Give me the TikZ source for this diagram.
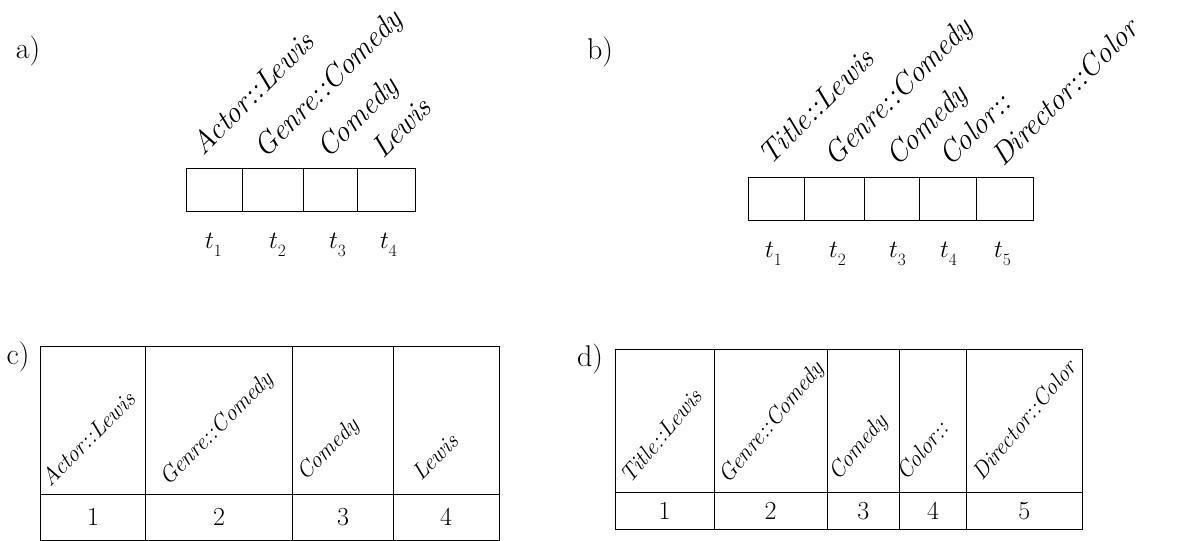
\documentclass[tikz,border=0pt]{standalone}
\begin{document}
\begin{tikzpicture}[x=1pt,y=-1pt,
  cell/.style={draw,line width=0.9pt,inner sep=0pt,minimum height=43pt},
  tcell/.style={draw,line width=0.9pt,inner sep=0pt,font=\fontsize{26}{30}\selectfont},
  biglab/.style={anchor=base west,rotate=45,inner sep=0pt,font=\fontsize{30}{34}\selectfont\itshape},
  smalllab/.style={anchor=base west,rotate=45,inner sep=0pt,font=\fontsize{23}{27}\selectfont\itshape},
  steeplab/.style={smalllab,rotate=5},
  tlab/.style={inner sep=0pt,font=\fontsize{36}{42}\selectfont},
  panel/.style={inner sep=0pt,font=\fontsize{30}{34}\selectfont}]
\useasboundingbox (0,0) rectangle (1187,541);
% panel labels
\node[panel] (pa) at (28,51) {a)};
\node[panel] (pb) at (600,52) {b)};
\node[panel] (pc) at (18,357) {c)};
\node[panel] (pd) at (590,359) {d)};
% a) cells
\node[cell,minimum width=56.3pt] (a1) at (214.15,189.5) {};
\node[cell,minimum width=60.7pt] (a2) at (272.65,189.5) {};
\node[cell,minimum width=54.7pt] (a3) at (330.35,189.5) {};
\node[cell,minimum width=57.3pt] (a4) at (386.35,189.5) {};
\node[biglab] (la1) at (203,157) {Actor::Lewis};
\node[biglab] (la2) at (265,160) {Genre::Comedy};
\node[biglab] (la3) at (328,160) {Comedy};
\node[biglab] (la4) at (383,160) {Lewis};
\node[tlab] (ta1) at (214,245) {$t_{_1}$};
\node[tlab] (ta2) at (278,245) {$t_{_2}$};
\node[tlab] (ta3) at (338,245) {$t_{_3}$};
\node[tlab] (ta4) at (389,245) {$t_{_4}$};
% b) cells
\node[cell,minimum width=55.3pt] (b1) at (776.35,198.5) {};
\node[cell,minimum width=60.7pt] (b2) at (834.35,198.5) {};
\node[cell,minimum width=54.3pt] (b3) at (891.85,198.5) {};
\node[cell,minimum width=57pt] (b4) at (947.5,198.5) {};
\node[cell,minimum width=57pt] (b5) at (1004.5,198.5) {};
\node[biglab] (lb1) at (770,167) {Title::Lewis};
\node[biglab] (lb2) at (835,168) {Genre::Comedy};
\node[biglab] (lb3) at (897,168) {Comedy};
\node[biglab] (lb4) at (950,168) {Color::};
\node[biglab] (lb5) at (1003,168) {Director::Color};
\node[tlab] (tb1) at (774,254) {$t_{_1}$};
\node[tlab] (tb2) at (838,254) {$t_{_2}$};
\node[tlab] (tb3) at (898,254) {$t_{_3}$};
\node[tlab] (tb4) at (949,254) {$t_{_4}$};
\node[tlab] (tb5) at (1003,254) {$t_{_5}$};
% c) table
\node[tcell,minimum width=105pt,minimum height=147.3pt] (c1) at (93.2,420.35) {};
\node[tcell,minimum width=147pt,minimum height=147.3pt] (c2) at (219.2,420.35) {};
\node[tcell,minimum width=100.6pt,minimum height=147.3pt] (c3) at (343,420.35) {};
\node[tcell,minimum width=105.7pt,minimum height=147.3pt] (c4) at (446.15,420.35) {};
\node[tcell,minimum width=105pt,minimum height=46pt] (cn1) at (93.2,517) {1};
\node[tcell,minimum width=147pt,minimum height=46pt] (cn2) at (219.2,517) {2};
\node[tcell,minimum width=100.6pt,minimum height=46pt] (cn3) at (343,517) {3};
\node[tcell,minimum width=105.7pt,minimum height=46pt] (cn4) at (446.15,517) {4};
\node[smalllab] (lc1) at (50,488) {Actor::Lewis};
\node[smalllab] (lc2) at (168,487) {Genre::Comedy};
\node[smalllab] (lc3) at (305,482) {Comedy};
\node[smalllab] (lc4) at (421,482) {Lewis};
% d) table
\node[tcell,minimum width=99pt,minimum height=143pt] (d1) at (664.5,420.8) {};
\node[tcell,minimum width=113.3pt,minimum height=143pt] (d2) at (770.65,420.8) {};
\node[tcell,minimum width=72pt,minimum height=143pt] (d3) at (863.3,420.8) {};
\node[tcell,minimum width=67.4pt,minimum height=143pt] (d4) at (933,420.8) {};
\node[tcell,minimum width=115.3pt,minimum height=143pt] (d5) at (1024.35,420.8) {};
\node[tcell,minimum width=99pt,minimum height=36.7pt] (dn1) at (664.5,510.65) {1};
\node[tcell,minimum width=113.3pt,minimum height=36.7pt] (dn2) at (770.65,510.65) {2};
\node[tcell,minimum width=72pt,minimum height=36.7pt] (dn3) at (863.3,510.65) {3};
\node[tcell,minimum width=67.4pt,minimum height=36.7pt] (dn4) at (933,510.65) {4};
\node[tcell,minimum width=115.3pt,minimum height=36.7pt] (dn5) at (1024.35,510.65) {5};
\node[steeplab] (ld1) at (630,485) {Title::Lewis};
\node[steeplab] (ld2) at (728,485) {Genre::Comedy};
\node[steeplab] (ld3) at (838,482) {Comedy};
\node[steeplab] (ld4) at (906,482) {Color::};
\node[steeplab] (ld5) at (982,482) {Director::Color};
\end{tikzpicture}
\end{document}
